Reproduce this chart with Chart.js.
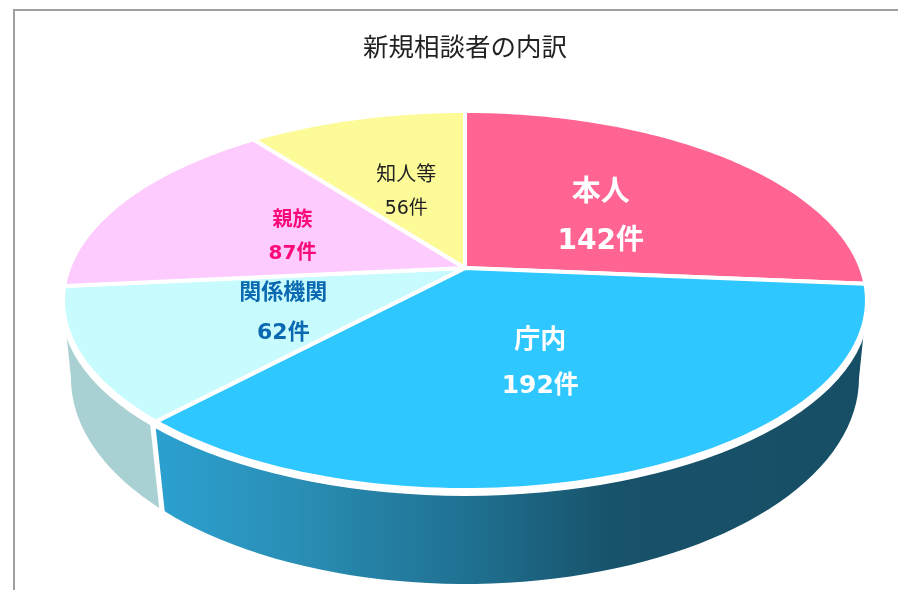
<!DOCTYPE html>
<html lang="ja">
<head>
<meta charset="utf-8">
<title>新規相談者の内訳</title>
<script src="https://cdn.jsdelivr.net/npm/chart.js@4/dist/chart.umd.js"></script>
<style>
    html, body { margin: 0; background: #fff; overflow: hidden; }
    #wrap { position: relative; width: 898px; height: 590px; }
    #frame { position: absolute; left: 13px; top: 9px; right: -5px; bottom: -5px; border: 2px solid #a0a0a0; }
    canvas { position: absolute; left: 0; top: 0; }
</style>
</head>
<body>
<div id="wrap">
    <div id="frame"></div>
    <canvas id="pie" width="898" height="590"></canvas>
</div>
<script>
// data
const chartTitle = '新規相談者の内訳';
const categories = ['本人', '庁内', '関係機関', '親族', '知人等'];
const counts = [142, 192, 62, 87, 56];
const unit = '件';

// slice styles
const topColors = ['#ff6492', '#2fc7ff', '#c8fbfe', '#fecbfe', '#fdfb98'];
const textColors = ['#ffffff', '#ffffff', '#0a69b0', '#fb0a78', '#222222'];
const nameFonts = ['bold 29px', 'bold 26px', 'bold 22px', 'bold 20px', '20px'];
const countFonts = ['bold 28px', 'bold 25px', 'bold 22px', 'bold 20px', '19px'];
const lineGaps = [24.5, 22.5, 20, 16.5, 17];
const labelShiftX = [-2, -2, 3, 3, 0];
const labelShiftY = [8.5, 2.5, 3.5, 5, 5];
const TITLE_FONT = '"Noto Sans CJK JP", "Noto Sans", sans-serif';
const LABEL_FONT = '"DejaVu Sans", "Noto Sans CJK JP", sans-serif';

// view of the disc: pie centre and perspective
const CENTER_X = 465;
const CENTER_Y = 268;
const RADIUS = 396;
const TILT = 0.4645;     // vertical squash
const PERSP = 0.1715;    // near side looks bigger

// ellipses for the top face and the foot of the wall
const topEllipse = { x: CENTER_X, y: 300.5, rx: 402, ry: 189.5 };
const footEllipse = { x: CENTER_X, y: 378, rx: 394, ry: 206 };
const RIM = 6;
const WALL_GAP = 0.011;
const WALL_SLANT = 0.014;

function project(angle, r) {
    const u = Math.cos(angle) * r, v = Math.sin(angle) * r;
    const d = 1 - PERSP * v;
    return { x: CENTER_X + RADIUS * u / d, y: CENTER_Y + RADIUS * TILT * v / d };
}

function onEllipse(e, phi) {
    return { x: e.x + e.rx * Math.cos(phi), y: e.y + e.ry * Math.sin(phi) };
}

// angle on the top ellipse for a slice edge
function edgePhi(angle) {
    const p = project(angle, 1);
    return Math.atan2((p.y - topEllipse.y) / topEllipse.ry, (p.x - topEllipse.x) / topEllipse.rx);
}

function wallFill(ctx, i) {
    if (i === 1) {
        const g = ctx.createLinearGradient(154, 0, 865, 0);
        g.addColorStop(0, '#2ba1d0');
        g.addColorStop(0.2, '#2a8eb5');
        g.addColorStop(0.44, '#1f7192');
        g.addColorStop(0.65, '#18526a');
        g.addColorStop(1, '#164e65');
        return g;
    }
    return '#a9d0d3';
}

function drawWalls(ctx, arcs) {
    arcs.forEach((arc, i) => {
        let a = edgePhi(arc.startAngle);
        let b = edgePhi(arc.endAngle);
        if (b < a) b += Math.PI * 2;
        let lo = Math.max(a, 0);
        let hi = Math.min(b, Math.PI);
        if (lo >= hi) return;
        let topLo = lo, topHi = hi;
        if (lo > 0) { lo += WALL_GAP; topLo = lo + WALL_SLANT; }
        if (hi < Math.PI) { hi -= WALL_GAP; topHi = hi + WALL_SLANT; }
        ctx.beginPath();
        for (let t = 0; t <= 60; t++) {
            const p = onEllipse(topEllipse, topLo + (topHi - topLo) * t / 60);
            t ? ctx.lineTo(p.x, p.y) : ctx.moveTo(p.x, p.y);
        }
        for (let t = 60; t >= 0; t--) {
            const p = onEllipse(footEllipse, lo + (hi - lo) * t / 60);
            ctx.lineTo(p.x, p.y);
        }
        ctx.closePath();
        ctx.fillStyle = wallFill(ctx, i);
        ctx.fill();
    });
}

function drawRim(ctx) {
    ctx.beginPath();
    ctx.ellipse(topEllipse.x, topEllipse.y + RIM, topEllipse.rx + 2, topEllipse.ry, 0, 0, Math.PI * 2);
    ctx.fillStyle = '#fff';
    ctx.fill();
}

function drawFaces(ctx, arcs) {
    arcs.forEach((arc, i) => {
        ctx.beginPath();
        ctx.moveTo(CENTER_X, CENTER_Y);
        for (let t = 0; t <= 90; t++) {
            const p = project(arc.startAngle + (arc.endAngle - arc.startAngle) * t / 90, 1);
            ctx.lineTo(p.x, p.y);
        }
        ctx.closePath();
        ctx.fillStyle = arc.options.backgroundColor;
        ctx.fill();
        ctx.strokeStyle = arc.options.borderColor;
        ctx.lineWidth = arc.options.borderWidth;
        ctx.lineJoin = 'round';
        ctx.stroke();
    });
}

function drawLabels(ctx, arcs) {
    ctx.textAlign = 'center';
    ctx.textBaseline = 'middle';
    arcs.forEach((arc, i) => {
        const p = project((arc.startAngle + arc.endAngle) / 2, 0.5);
        const x = p.x + labelShiftX[i];
        const y = p.y + labelShiftY[i];
        ctx.fillStyle = textColors[i];
        ctx.font = `${nameFonts[i]} ${LABEL_FONT}`;
        ctx.fillText(categories[i], x, y - lineGaps[i]);
        ctx.font = `${countFonts[i]} ${LABEL_FONT}`;
        ctx.fillText(counts[i] + unit, x, y + lineGaps[i]);
    });
}

// paints the library's arc elements as a tilted disc
const tiltedDisc = {
    id: 'tiltedDisc',
    beforeDatasetsDraw(chart) {
        const ctx = chart.ctx;
        const arcs = chart.getDatasetMeta(0).data;
        ctx.save();
        drawWalls(ctx, arcs);
        drawRim(ctx);
        drawFaces(ctx, arcs);
        drawLabels(ctx, arcs);
        ctx.restore();
        return false;
    }
};

new Chart(document.getElementById('pie'), {
    type: 'pie',
    data: {
        labels: categories,
        datasets: [{
            data: counts,
            backgroundColor: topColors,
            borderColor: '#ffffff',
            borderWidth: 4,
            radius: RADIUS
        }]
    },
    options: {
        responsive: false,
        animation: false,
        layout: { padding: { left: 32, bottom: 126 } },
        plugins: {
            legend: { display: false },
            tooltip: { enabled: false },
            title: {
                display: true,
                text: chartTitle,
                color: '#222222',
                font: { family: TITLE_FONT, size: 25.5, weight: 'normal' },
                padding: { top: 31, bottom: 10 }
            }
        }
    },
    plugins: [tiltedDisc]
});
</script>
</body>
</html>
